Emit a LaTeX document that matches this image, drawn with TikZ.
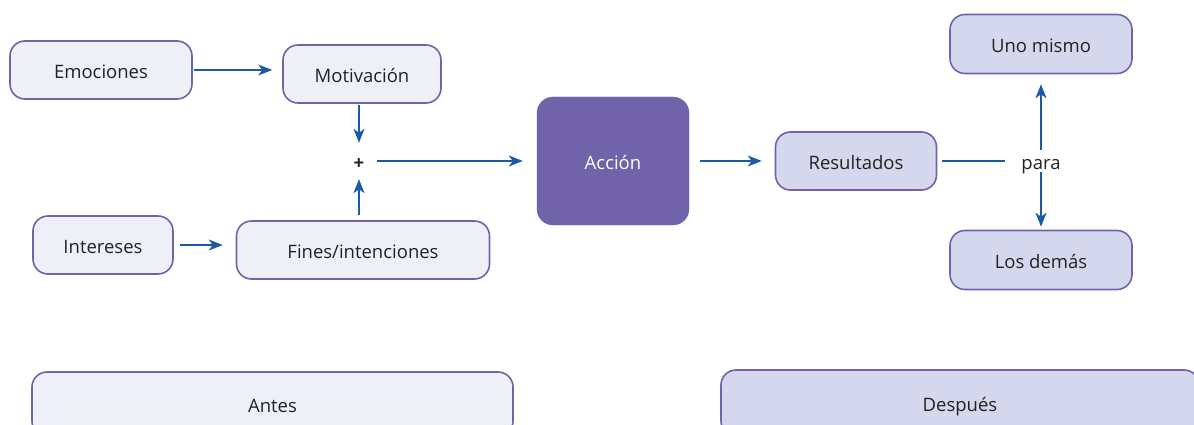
\documentclass[tikz,border=0pt]{standalone}
\usepackage{fontspec}
\setmainfont{Open Sans}
\usetikzlibrary{arrows.meta}
\definecolor{bord}{HTML}{7262AC}
\definecolor{lightf}{HTML}{EEF0F8}
\definecolor{darkf}{HTML}{D5D8ED}
\definecolor{accf}{HTML}{7063A9}
\definecolor{arrc}{HTML}{1B5BA5}
\definecolor{textc}{HTML}{222222}
\begin{document}
\begin{tikzpicture}[x=1pt,y=-1pt,
  box/.style={draw=bord,line width=1.6pt,rounded corners=15pt,fill=lightf,
    font=\fontsize{18.5}{20}\selectfont,text=textc,inner sep=0pt,
    text height=17pt,text depth=0pt},
  boxb/.style={box,fill=darkf},
  plain/.style={inner sep=0pt,font=\fontsize{18.5}{20}\selectfont,text=textc,
    text height=17pt,text depth=0pt},
  arr/.style={draw=arrc,line width=1.3pt,-{Stealth[length=14pt,width=11pt,inset=4pt]}},
  ln/.style={draw=arrc,line width=1.3pt}]
\useasboundingbox (0,0) rectangle (1194,425);
\clip (0,0) rectangle (1194,425);
% left nodes
\node[box,minimum width=182pt,minimum height=58pt] (emo) at (101,70) {Emociones};
\node[box,minimum width=158pt,minimum height=58pt] (mot) at (362,74) {Motivación};
\node[plain,minimum width=36pt,minimum height=36pt] (plus) at (359,161) {\textbf{+}};
\node[box,minimum width=140pt,minimum height=58pt] (int) at (103,245) {Intereses};
\node[box,minimum width=253pt,minimum height=58pt] (fin) at (363,250) {Fines/intenciones};
% action
\node[draw=accf,fill=accf,rounded corners=16pt,minimum width=152pt,minimum height=128pt,
  font=\fontsize{18.5}{20}\selectfont,text=white,inner sep=0pt,
  text height=17pt,text depth=0pt] (acc) at (613,161) {Acción};
% right nodes
\node[boxb,minimum width=161pt,minimum height=58pt] (res) at (856,161) {Resultados};
\node[plain,minimum width=72pt,minimum height=22pt] (para) at (1041,161) {para};
\node[boxb,minimum width=182pt,minimum height=59pt] (uno) at (1041,44) {Uno mismo};
\node[boxb,minimum width=182pt,minimum height=59pt] (dem) at (1041,260) {Los demás};
% bottom nodes
\node[box,minimum width=481pt,minimum height=64pt] (antes) at (272.5,404) {Antes};
\node[boxb,minimum width=478pt,minimum height=66pt] (desp) at (960,403) {Después};
% connectors
\draw[arr,shorten <=1pt,shorten >=10pt] (emo.east) -- (emo.east -| mot.west);
\draw[arr,shorten <=1pt] (mot.south -| plus.north) -- (plus.north);
\draw[arr,shorten <=5pt] (fin.north -| plus.south) -- (plus.south);
\draw[arr,shorten <=6pt,shorten >=13pt] (int.east) -- (int.east -| fin.west);
\draw[arr,shorten >=14pt] (plus.east) -- (acc.west);
\draw[arr,shorten <=11pt,shorten >=13pt] (acc.east) -- (res.west);
\draw[ln,shorten <=5pt] (res.east) -- (para.west);
\draw[arr,shorten >=10pt] (para.north) -- (uno.south);
\draw[arr,shorten >=3pt] (para.south) -- (dem.north);
\end{tikzpicture}
\end{document}
